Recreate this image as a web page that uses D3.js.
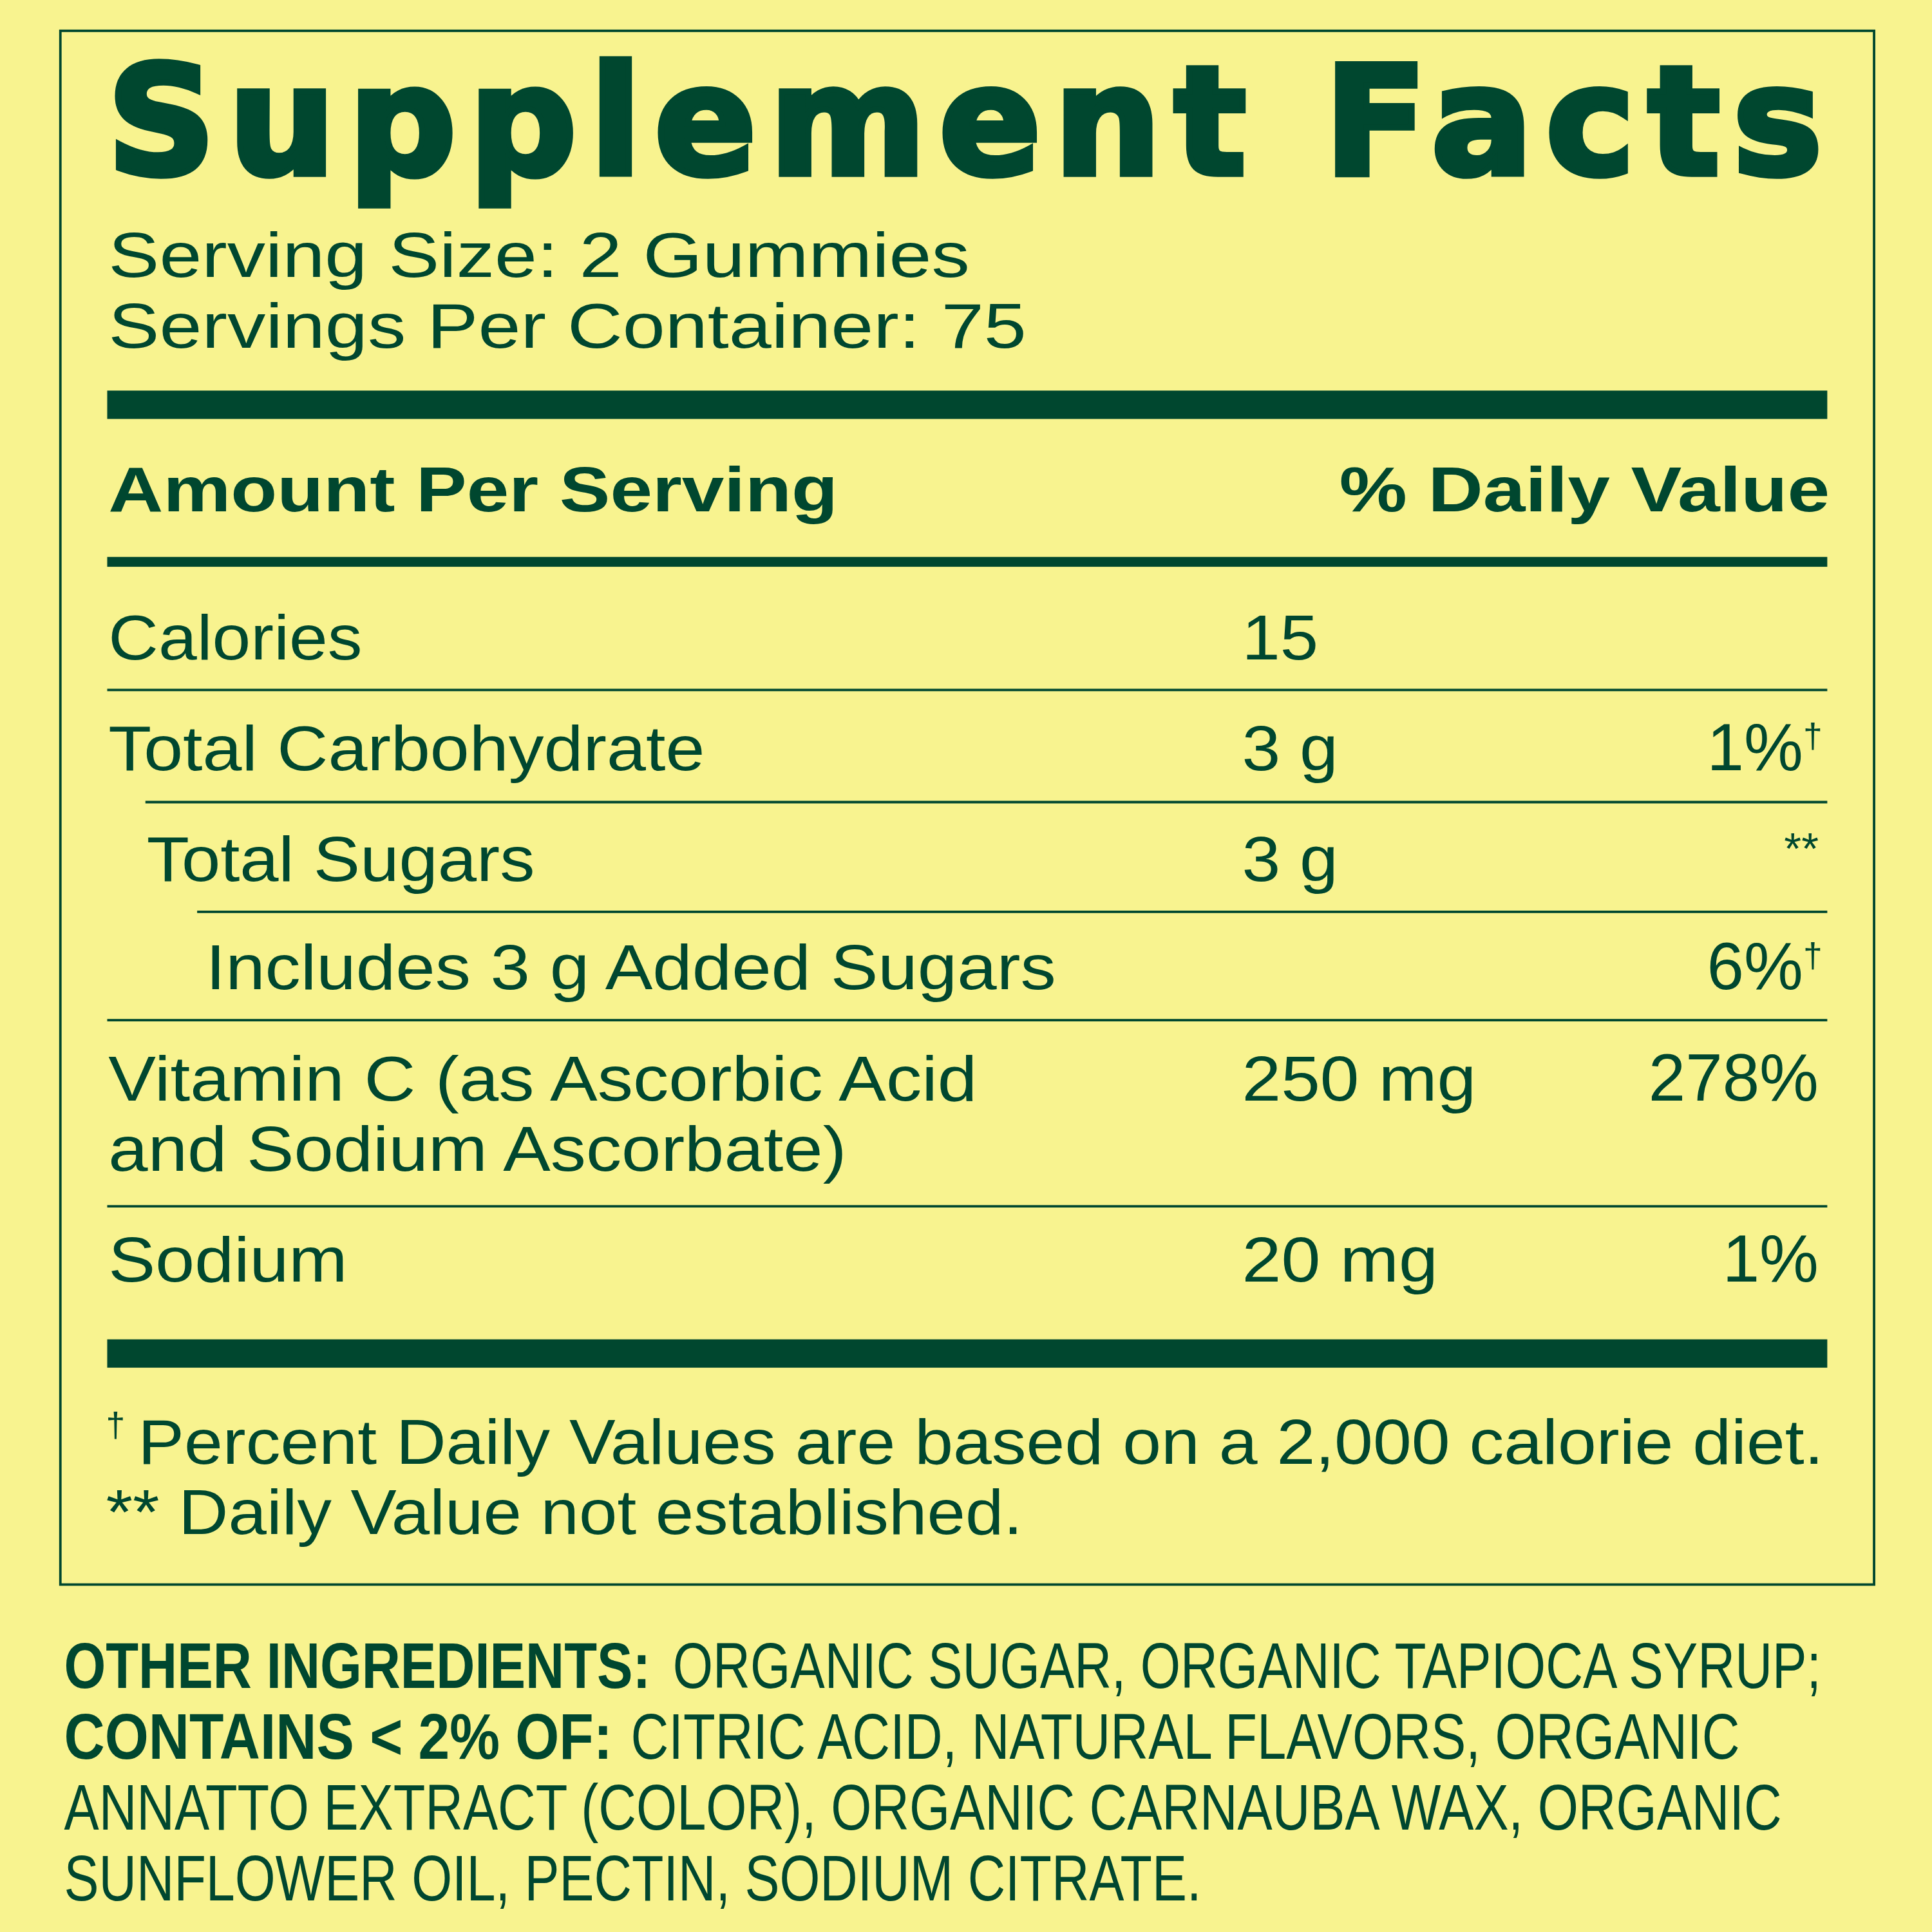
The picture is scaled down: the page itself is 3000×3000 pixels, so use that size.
<!DOCTYPE html>
<html><head><meta charset="utf-8">
<script src="https://cdn.jsdelivr.net/npm/d3@7"></script>
<style>body{margin:0;background:#f8f38f}</style>
</head><body>
<script>
// label data
var nutrients = ["Calories", "Total Carbohydrate", "Total Sugars", "Includes 3 g Added Sugars", "Vitamin C (as Ascorbic Acid|and Sodium Ascorbate)", "Sodium"];
var nutrientWidths = [[206], [484], [315], [690], [705, 599], [194]];
var amounts = ["15", "3 g", "3 g", "", "250 mg", "20 mg"];
var amountWidths = [62, 78, 78, 0, 190, 159];
var dailyValues = ["", "1%", "**", "6%", "278%", "1%"];
var daggers = [false, true, false, true, false, false];
var indents = [0, 0, 1, 2, 0, 0];
var servingLines = ["Serving Size: 2 Gummies", "Servings Per Container: 75"];
var servingWidths = [699, 745];
var footnotes = ["Percent Daily Values are based on a 2,000 calorie diet.", "** Daily Value not established."];
var ingredientLines = [
  ["OTHER INGREDIENTS:", "ORGANIC SUGAR, ORGANIC TAPIOCA SYRUP;"],
  ["CONTAINS < 2% OF:", "CITRIC ACID, NATURAL FLAVORS, ORGANIC"],
  ["", "ANNATTO EXTRACT (COLOR), ORGANIC CARNAUBA WAX, ORGANIC"],
  ["", "SUNFLOWER OIL, PECTIN, SODIUM CITRATE."]
];
var ingredientBoldWidths = [476, 445, 0, 0];
var ingredientStart = [546, 512, 52, 52];
var ingredientEnd = [1478, 1412, 1446, 975];

var green = "#00472f", font = "'Liberation Sans', Arial, sans-serif";

var svg = d3.select("body").append("svg")
    .attr("width", 3000).attr("height", 3000)
    .attr("viewBox", "0 0 1568 1568");
svg.append("rect").attr("width", 1568).attr("height", 1568).attr("fill", "#f8f38f");
svg.append("rect").attr("x", 49).attr("y", 25).attr("width", 1472).attr("height", 1261)
   .attr("fill", "none").attr("stroke", green).attr("stroke-width", 2);

svg.append("text").attr("x", 87).attr("y", 141).text("Supplement Facts")
   .attr("font-family", "'DejaVu Sans', sans-serif").attr("font-weight", "bold")
   .attr("font-size", 122).attr("fill", green).attr("stroke", green).attr("stroke-width", 5)
   .attr("textLength", 1392).attr("lengthAdjust", "spacing");

function txt(x, y, s, w, size, bold, anchor) {
  var t = svg.append("text").attr("x", x).attr("y", y).text(s)
     .attr("font-family", font).attr("font-size", size || 51).attr("fill", green)
     .attr("font-weight", bold ? "bold" : "normal").attr("text-anchor", anchor || "start");
  if (w) t.attr("textLength", w).attr("lengthAdjust", "spacingAndGlyphs");
  return t;
}

servingLines.forEach(function(d, i){ txt(88, 225 + i * 57, d, servingWidths[i]); });

function bar(y, h) {
  svg.append("rect").attr("x", 87).attr("y", y).attr("width", 1396).attr("height", h).attr("fill", green);
}
bar(317, 23); bar(452, 8); bar(1087, 23);

txt(88, 415, "Amount Per Serving", 592, 51, true);
txt(1087, 415, "% Daily Value", 398, 51, true);

var baselines = [535, 625, 715, 803, 893, 1040];
var ruleY = [560, 651, 740, 828, 979];
var indentX = d3.scaleOrdinal().domain([0, 1, 2]).range([88, 119, 167]);
var ruleX = d3.scaleOrdinal().domain([0, 1, 2]).range([87, 118, 160]);

nutrients.forEach(function(n, i) {
  n.split("|").forEach(function(part, j) {
    txt(indentX(indents[i]), baselines[i] + j * 57, part, nutrientWidths[i][j]);
  });
  if (amounts[i]) txt(1008, baselines[i], amounts[i], amountWidths[i]);
  var dv = svg.append("text").attr("x", daggers[i] ? 1479 : 1476).attr("y", baselines[i])
     .attr("text-anchor", "end").attr("font-family", font).attr("font-size", dailyValues[i] == "**" ? 36 : 54)
     .attr("fill", green);
  dv.append("tspan").text(dailyValues[i]).attr("dy", dailyValues[i] == "**" ? -14 : 0);
  if (daggers[i]) dv.append("tspan").text("†").attr("font-size", 28).attr("dy", -18);
  if (i < ruleY.length) {
    var x0 = i < 4 ? ruleX(indents[i + 1]) : 87;
    svg.append("line").attr("x1", x0).attr("x2", 1483).attr("y1", ruleY[i]).attr("y2", ruleY[i])
       .attr("stroke", green).attr("stroke-width", 2);
  }
});

txt(86, 1166, "†", 0, 28);
txt(112, 1188, footnotes[0], 1368);
txt(86, 1245, footnotes[1], 744);

ingredientLines.forEach(function(l, i) {
  var y = 1370 + i * 57.5;
  if (l[0]) txt(52, y, l[0], ingredientBoldWidths[i], 52, true);
  txt(ingredientStart[i], y, l[1], ingredientEnd[i] - ingredientStart[i], 52);
});
</script>
</body></html>
